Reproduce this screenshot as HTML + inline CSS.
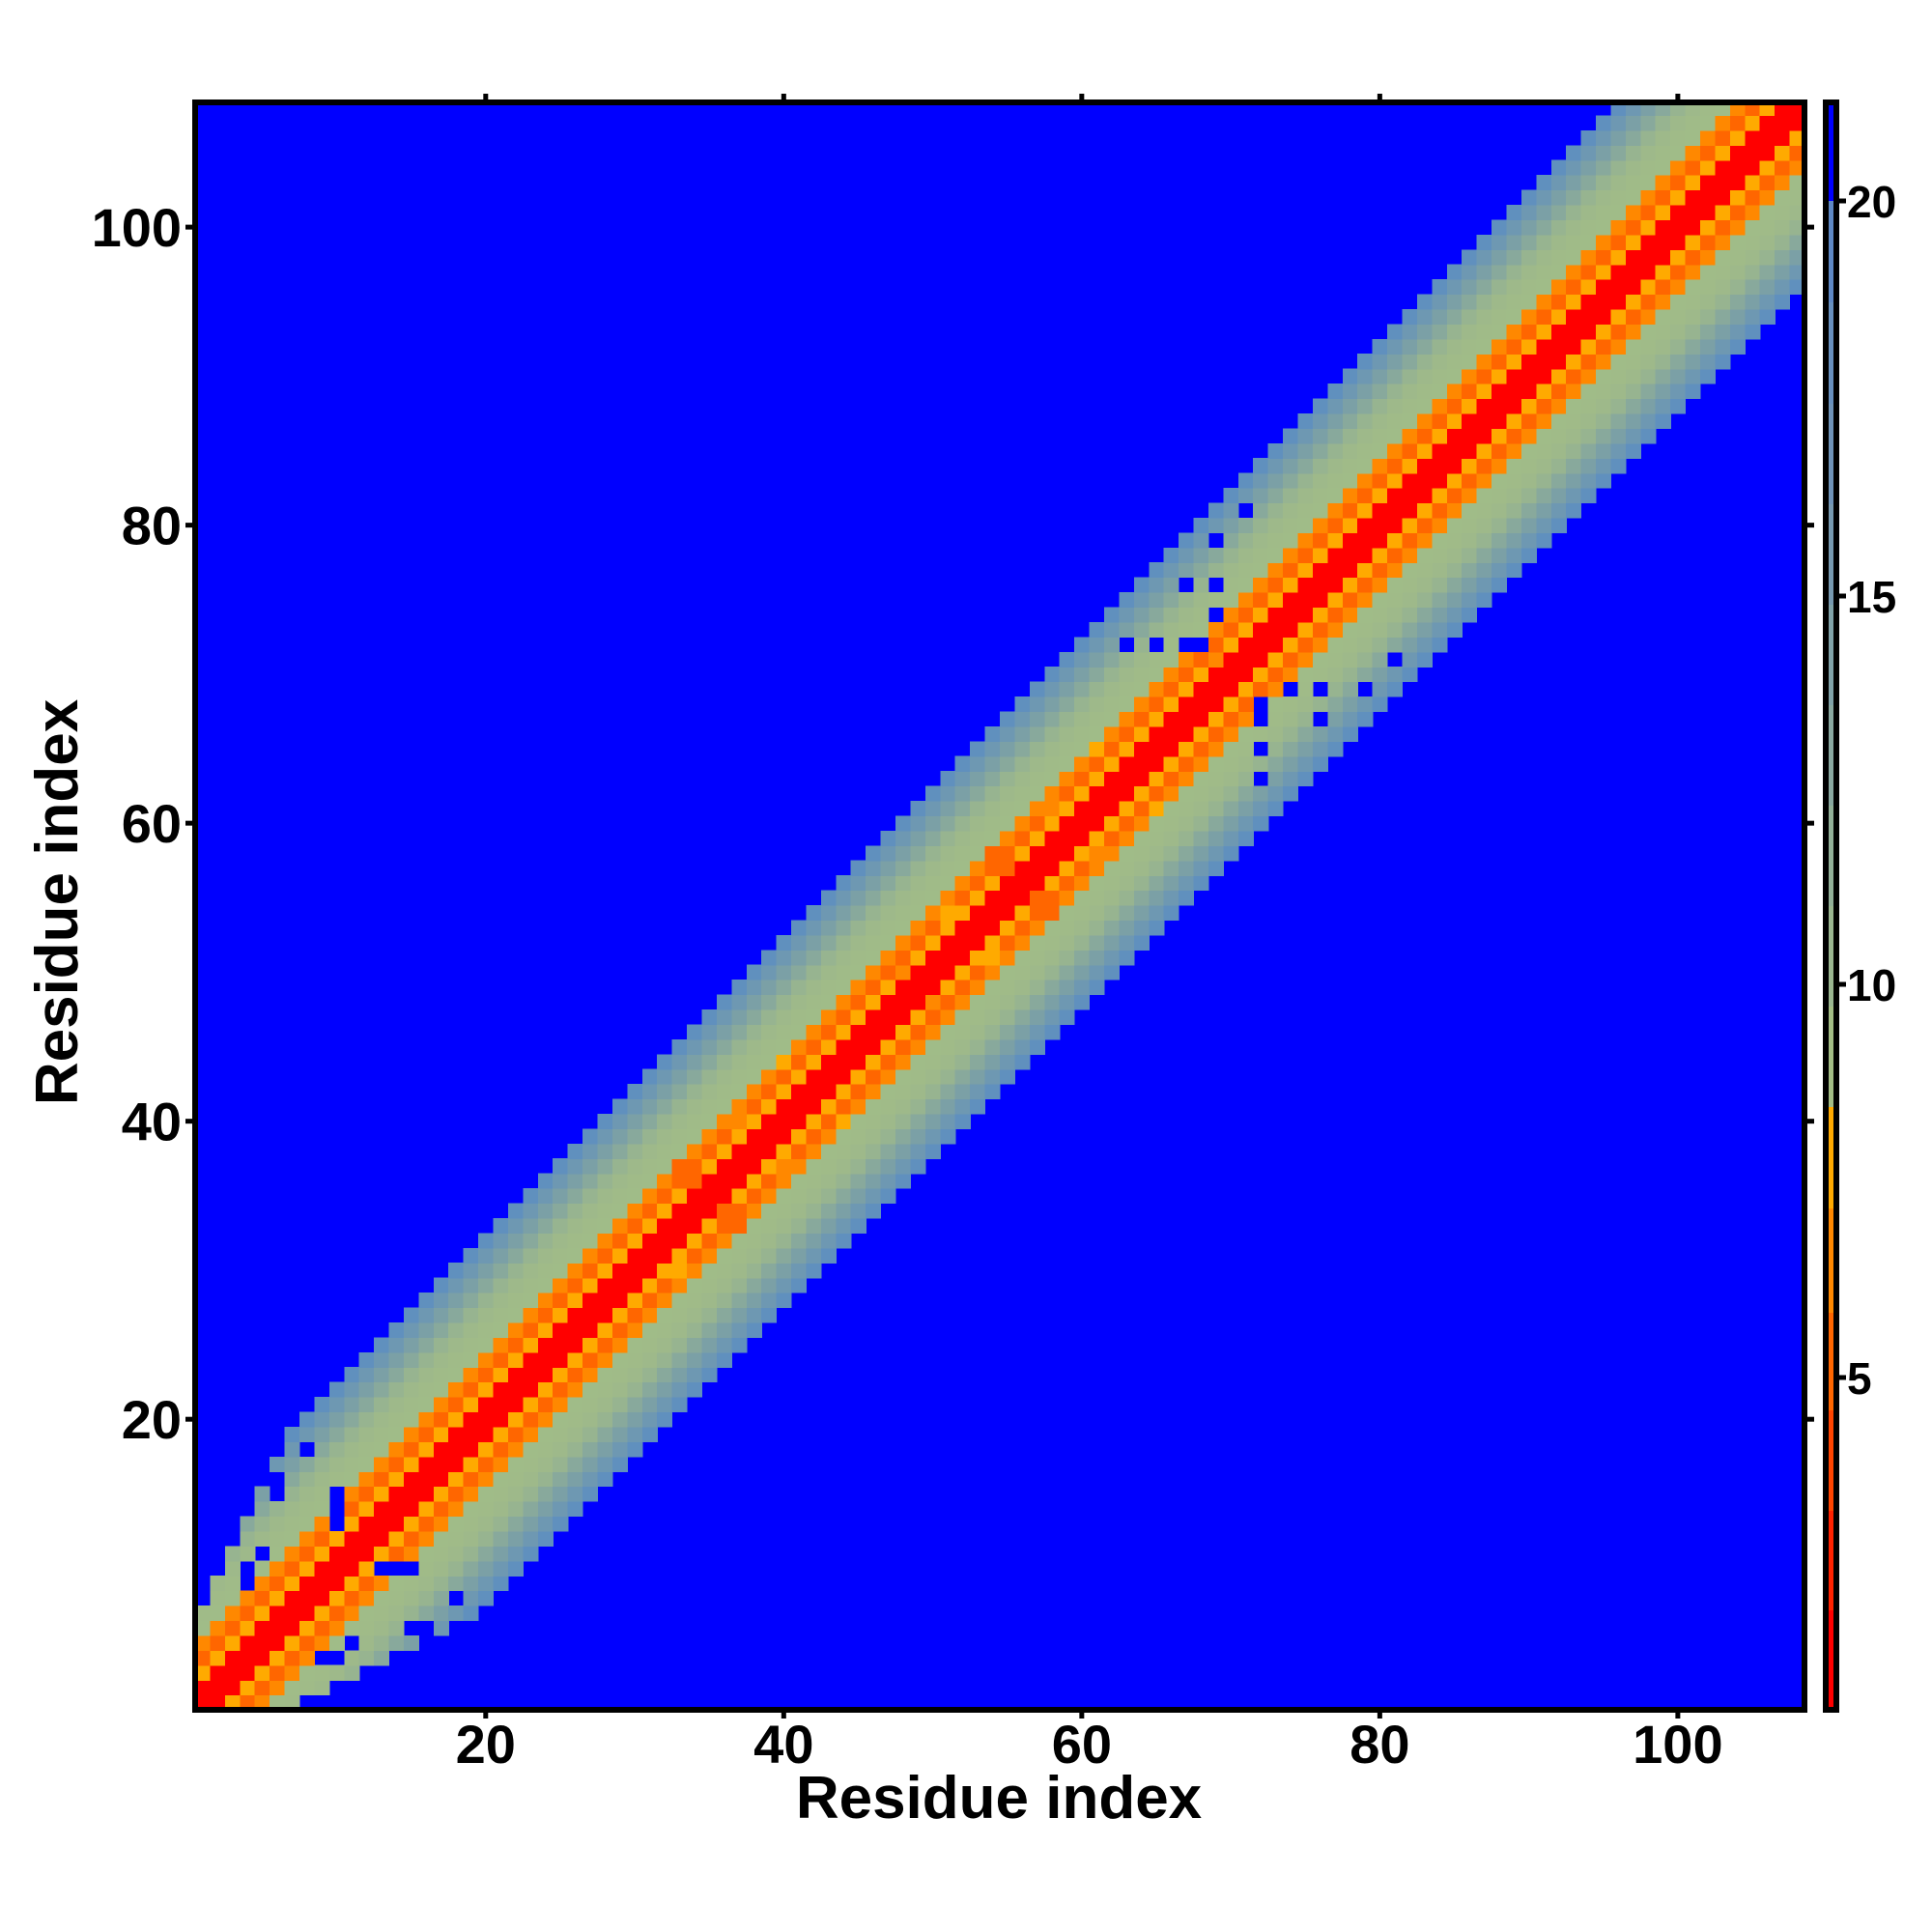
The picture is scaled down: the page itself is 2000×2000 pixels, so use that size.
<!DOCTYPE html>
<html><head><meta charset="utf-8"><style>
html,body{margin:0;padding:0;background:#fff;}
svg{display:block;}
text{font-family:"Liberation Sans",Arial,sans-serif;font-weight:bold;fill:#000;}
</style></head><body>
<svg id="s" width="2000" height="2000" viewBox="0 0 2000 2000" xmlns="http://www.w3.org/2000/svg">
<rect width="2000" height="2000" fill="#fff"/>
<g id="cells" shape-rendering="crispEdges"></g>
<g id="cb" shape-rendering="crispEdges"></g>
<rect x="202" y="106" width="1666" height="1664" fill="none" stroke="#000" stroke-width="6"/>
<rect x="1890" y="106" width="11" height="1664" fill="none" stroke="#000" stroke-width="6"/>
<g id="ticks" stroke="#000" stroke-width="5"></g>
<g font-size="56" text-anchor="end" id="ylab"></g>
<g font-size="56" text-anchor="middle" id="xlab"></g>
<g font-size="46" id="cblab"></g>
<text x="1034" y="1882" font-size="62" text-anchor="middle">Residue index</text>
<text transform="translate(80,934) rotate(-90)" font-size="62" text-anchor="middle">Residue index</text>
</svg>
<script>
var NS="http://www.w3.org/2000/svg";
function el(p,tag,a,txt){var e=document.createElementNS(NS,tag);for(var k in a)e.setAttribute(k,a[k]);if(txt!=null)e.textContent=txt;p.appendChild(e);return e;}
var N=108,X0=202,Y1=1770,C=1666/108;
var col={0:"#ff0000",1:"#ff0000",2:"#ffaa00",3:"#ff6600",4:"#ff8800",5:"#a0bc88",6:"#a0bb88",7:"#9eb98a",8:"#97b490",9:"#88a99c",10:"#7ba0a6",11:"#6e98b2",12:"#6090be"};
var holes=[[71,81],[69,79],[67,76],[69,76],[69,74],[63,72],[65,72],[67,72],[68,72],[5,11],[4,9],[13,10],[14,10],[15,10],[18,8],[15,6],[16,6],[11,5],[9,4],[10,4],[16,5]];
var H={};holes.forEach(function(h){H[h[0]+","+h[1]]=1;H[h[1]+","+h[0]]=1;});
var g=document.getElementById("cells");
el(g,"rect",{x:X0,y:106,width:1666,height:1664,fill:"#0000ff"});
for(var i=1;i<=N;i++)for(var j=1;j<=N;j++){
 var d=Math.abs(i-j);var m=Math.min(i,j);
 var lim=Math.min(12,5+m);
 if(d>lim)continue;
 if(H[i+","+j])continue;
 var c=col[d];
 if(d>=2&&d<=4&&i>30&&i<70&&((i+j)%7==0))c=["#ffaa00","#ff6600","#ff8800"][(i+j)%3];
 var x=X0+(i-1)*C,y=Y1-j*C;
 el(g,"rect",{x:x.toFixed(2),y:y.toFixed(2),width:(C+0.6).toFixed(2),height:(C+0.6).toFixed(2),fill:c});
}
// colorbar
var cb=document.getElementById("cb");
var bands=[[1770,1667,"#ff0000"],[1667,1564,"#ff2200"],[1564,1460,"#ff4400"],[1460,1359,"#ff6600"],[1359,1251,"#ff8800"],[1251,1146,"#ffaa00"],[1146,1042,"#a3bd85"],[1042,938,"#9ab690"],[938,834,"#92b098"],[834,730,"#89a8a0"],[730,626,"#80a2a8"],[626,522,"#7799b0"],[522,418,"#6f93b8"],[418,313,"#6890be"],[313,208,"#5f88c4"],[208,106,"#0000ff"]];
bands.forEach(function(b){el(cb,"rect",{x:1890,y:b[1],width:11,height:b[0]-b[1],fill:b[2]});});
var t=document.getElementById("ticks");
var yl=document.getElementById("ylab"),xl=document.getElementById("xlab"),cl=document.getElementById("cblab");
for(var v=20;v<=100;v+=20){
 var px=X0+(v-0.5)*C, py=Y1-(v-0.5)*C;
 el(t,"line",{x1:px,y1:1773,x2:px,y2:1779});
 el(t,"line",{x1:px,y1:103,x2:px,y2:97});
 el(t,"line",{x1:199,y1:py,x2:192,y2:py});
 el(t,"line",{x1:1871,y1:py,x2:1878,y2:py});
 el(yl,"text",{x:188,y:py+20},String(v));
 el(xl,"text",{x:px,y:1825},String(v));
}
[[5,1426],[10,1019],[15,617],[20,208]].forEach(function(a){
 el(t,"line",{x1:1904,y1:a[1],x2:1911,y2:a[1]});
 el(cl,"text",{x:1912,y:a[1]+17},String(a[0]));
});
</script>
</body></html>
